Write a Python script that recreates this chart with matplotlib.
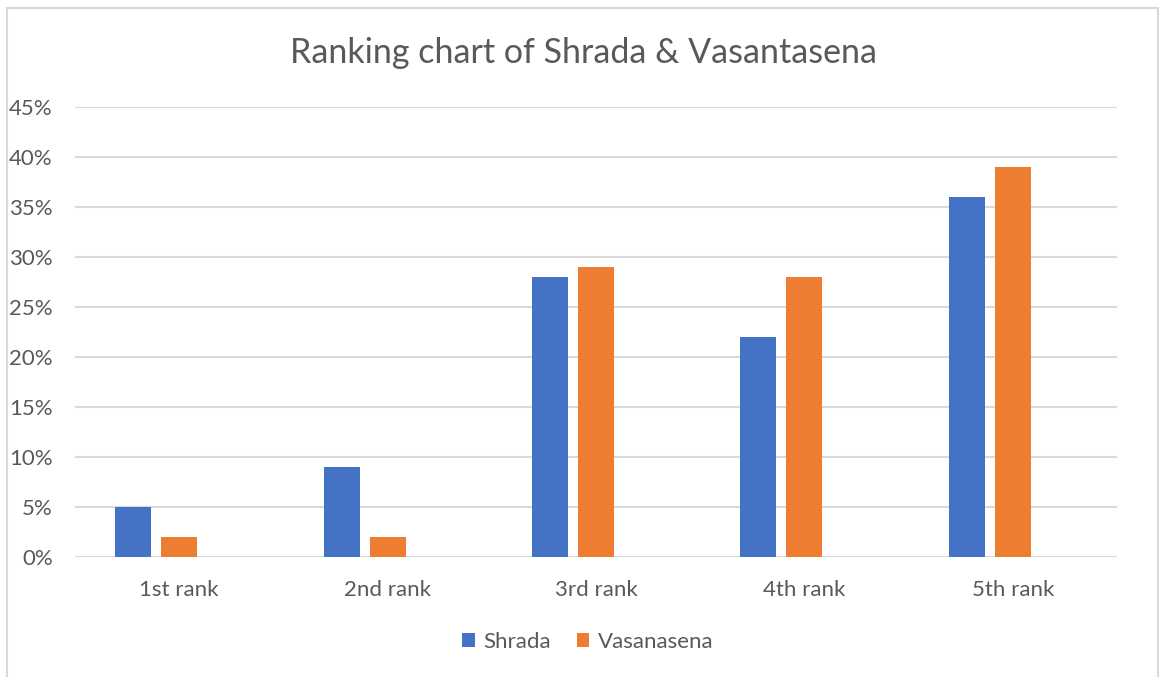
import matplotlib
matplotlib.use("Agg")
import matplotlib.pyplot as plt
from matplotlib.patches import Rectangle, Patch
from matplotlib.ticker import PercentFormatter

categories = ["1st rank", "2nd rank", "3rd rank", "4th rank", "5th rank"]
shrada = [0.05, 0.09, 0.28, 0.22, 0.36]
vasanasena = [0.02, 0.02, 0.29, 0.28, 0.39]
series_names = ["Shrada", "Vasanasena"]
title = "Ranking chart of Shrada & Vasantasena"

BLUE = "#4472C4"
ORANGE = "#ED7D31"
GREY = "#595959"
GRID = "#D9D9D9"

plt.rcParams['font.family'] = ['Lato', 'DejaVu Sans']

W, H = 1160, 677
fig = plt.figure(figsize=(W / 100, H / 100), dpi=100)
fig.patch.set_facecolor("white")

# chart border
fig.add_artist(Rectangle((7 / W, -0.05), (1158 - 7) / W, (H - 8) / H + 0.05,
                         transform=fig.transFigure, fill=False,
                         edgecolor=GRID, linewidth=1.5))

ax = fig.add_axes([75 / W, (H - 557.3) / H, 1042 / W, 450.6 / H])
x = list(range(len(categories)))
bw = 0.173
ax.bar([i - 0.221 for i in x], shrada, width=bw, color=BLUE, label=series_names[0], zorder=3)
ax.bar([i + 0.0 for i in x], vasanasena, width=bw, color=ORANGE, label=series_names[1], zorder=3)

ax.set_xlim(-0.5, len(categories) - 0.5)
ax.set_ylim(0, 0.45)
ax.set_yticks([i * 0.05 for i in range(10)])
ax.yaxis.set_major_formatter(PercentFormatter(1.0, decimals=0))
ax.set_xticks(x)
ax.set_xticklabels(categories)
ax.grid(axis="y", color=GRID, linewidth=1.5, zorder=0)
for s in ax.spines.values():
    s.set_visible(False)
ax.tick_params(axis="both", length=0, labelsize=16, colors=GREY)
ax.tick_params(axis="y", pad=16)
ax.tick_params(axis="x", pad=16)

fig.text(583 / W, (H - 53) / H, title, ha="center", va="center", fontsize=24.5, color=GREY)

handles = [Patch(facecolor=BLUE, edgecolor="none"), Patch(facecolor=ORANGE, edgecolor="none")]
fig.legend(handles, series_names, loc="center", bbox_to_anchor=(588 / W, (H - 642) / H),
           ncol=2, frameon=False, fontsize=16, labelcolor=GREY,
           handlelength=0.55, handleheight=0.55, handletextpad=0.4, columnspacing=1.15)

fig.savefig("out.png", dpi=100, facecolor="white")
